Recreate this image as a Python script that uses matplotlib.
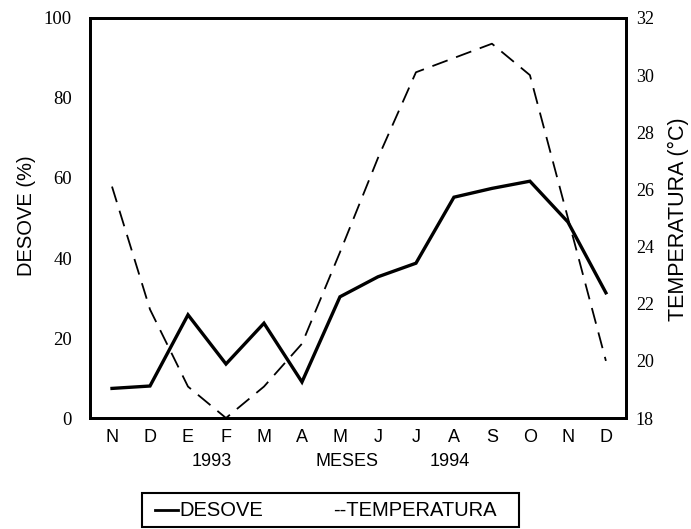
import matplotlib
matplotlib.use("Agg")
import matplotlib.pyplot as plt
from matplotlib.lines import Line2D
from matplotlib.patches import Rectangle

# datos (nov 1993 - dic 1994)
meses = ['N', 'D', 'E', 'F', 'M', 'A', 'M', 'J', 'J', 'A', 'S', 'O', 'N', 'D']
desove = [7.4, 8.0, 25.8, 13.5, 23.7, 9.0, 30.3, 35.3, 38.7, 55.2, 57.4, 59.2, 49.0, 31.3]
temperatura = [26.1, 21.8, 19.1, 18.0, 19.1, 20.6, 23.8, 27.1, 30.1, 30.6, 31.1, 30.0, 25.0, 20.0]
ticks_desove = [0, 20, 40, 60, 80, 100]
ticks_temp = [18, 20, 22, 24, 26, 28, 30, 32]

serif = 'Liberation Serif'
sans = 'Liberation Sans'

fig = plt.figure(figsize=(6.91, 5.29), dpi=100)
ax = fig.add_axes([0.1302, 0.2098, 0.7758, 0.7562])
ax2 = ax.twinx()

x = list(range(len(meses)))
ax.plot(x, desove, color='black', linewidth=2.4, solid_joinstyle='miter')
ax2.plot(x, temperatura, color='black', linewidth=1.3, dashes=(9, 5))

ax.set_xlim(-0.58, 13.53)
ax.set_ylim(0, 100)
ax2.set_ylim(18, 32)

for s in ax.spines.values():
    s.set_linewidth(2)
for s in ax2.spines.values():
    s.set_linewidth(2)

ax.set_xticks(x)
ax.set_xticklabels(meses, fontfamily=sans, fontsize=13)
ax.tick_params(axis='x', length=0, pad=8)
ax.set_yticks(ticks_desove)
ax.set_yticklabels([str(t) for t in ticks_desove], fontfamily=serif, fontsize=13.5)
ax.tick_params(axis='y', length=0, pad=13)
ax2.set_yticks(ticks_temp)
ax2.set_yticklabels([str(t) for t in ticks_temp], fontfamily=serif, fontsize=13)
ax2.tick_params(axis='y', length=0, pad=7)

# etiquetas de ejes
fig.text(27 / 691, 1 - 216 / 529, 'DESOVE (%)', rotation=90, ha='center', va='center',
         fontfamily=sans, fontsize=14.5)
fig.text(678 / 691, 1 - 219 / 529, 'TEMPERATURA (°C)', rotation=90, ha='center', va='center',
         fontfamily=sans, fontsize=15.5)

# años y titulo del eje x
fig.text(212 / 691, 1 - 462 / 529, '1993', ha='center', va='center', fontfamily=sans, fontsize=13)
fig.text(347 / 691, 1 - 462 / 529, 'MESES', ha='center', va='center', fontfamily=sans, fontsize=13)
fig.text(450 / 691, 1 - 462 / 529, '1994', ha='center', va='center', fontfamily=sans, fontsize=13)

# leyenda en caja
fig.patches.append(Rectangle((142 / 691, 1 - 527 / 529), 377 / 691, 34 / 529,
                             transform=fig.transFigure, fill=False, edgecolor='black',
                             linewidth=1.5))
fig.lines.append(Line2D([155 / 691, 178 / 691], [1 - 510 / 529, 1 - 510 / 529],
                        transform=fig.transFigure, color='black', linewidth=2))
fig.text(179 / 691, 1 - 510 / 529, 'DESOVE', ha='left', va='center', fontfamily=sans, fontsize=14.5)
fig.text(333 / 691, 1 - 510 / 529, '--TEMPERATURA', ha='left', va='center', fontfamily=sans,
         fontsize=14.5)

fig.savefig('out.png', dpi=100)
